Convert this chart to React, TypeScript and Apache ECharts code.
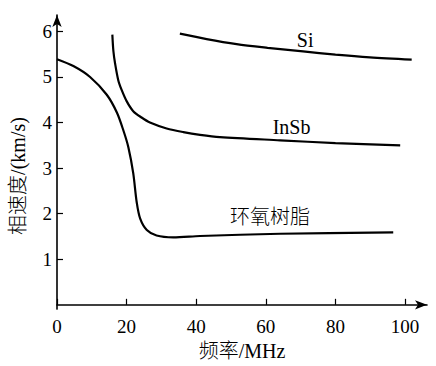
import React, { useEffect, useRef } from "react";
import * as echarts from "echarts";

const xTickValues = [0, 20, 40, 60, 80, 100];
const yTickValues = [1, 2, 3, 4, 5, 6];

const siFreq = [35.3, 43.0, 51.6, 60.5, 70.7, 80.0, 89.9, 101.9];
const siVel = [5.95, 5.83, 5.72, 5.64, 5.56, 5.49, 5.43, 5.38];

const insbFreq = [15.9, 16.2, 16.7, 17.6, 18.6, 20.0, 21.9, 24.3, 26.7, 31.5, 36.3, 41.1, 46.8, 64.1, 80.0, 98.6];
const insbVel = [5.93, 5.57, 5.29, 4.93, 4.71, 4.47, 4.25, 4.11, 4.0, 3.87, 3.79, 3.73, 3.68, 3.61, 3.55, 3.5];

const epoxyFreq = [0, 4.7, 9.5, 14.3, 17.2, 19.1, 20.5, 21.9, 22.9, 23.9, 25.8, 28.6, 33.4, 41.1, 64.1, 96.6];
const epoxyVel = [5.39, 5.24, 5.0, 4.61, 4.22, 3.82, 3.46, 2.89, 2.25, 1.89, 1.64, 1.52, 1.48, 1.51, 1.56, 1.59];

const FONT = "'Liberation Serif', 'Noto Sans CJK SC', serif";

const pairs = (xs: number[], ys: number[]) => xs.map((x, i) => [x, ys[i]]);

const labelPoint = (text: string, coord: number[]) => ({
  symbol: "circle",
  symbolSize: 0,
  silent: true,
  data: [
    {
      coord,
      label: {
        show: true,
        position: "inside",
        formatter: text,
        color: "#000",
        fontSize: 20,
        fontWeight: 300,
        fontFamily: FONT,
      },
    },
  ],
});

export default function App() {
  const ref = useRef<HTMLDivElement>(null);
  useEffect(() => {
    if (!ref.current) return;
    const chart = echarts.init(ref.current, null, { renderer: "svg" });
    const lineStyle = { color: "#000", width: 2.2 };
    chart.setOption({
      animation: false,
      backgroundColor: "#fff",
      grid: { left: 57, right: 9, top: 15, bottom: 50 },
      xAxis: {
        type: "value",
        min: 0,
        max: 106.3,
        axisLine: {
          lineStyle: { color: "#000", width: 1.6 },
          symbol: ["none", "arrow"],
          symbolSize: [7, 12],
        },
        axisTick: { inside: true, length: 6, customValues: xTickValues, lineStyle: { color: "#000", width: 1.2 } },
        axisLabel: { customValues: xTickValues, color: "#000", fontSize: 19, fontFamily: FONT, margin: 8 },
        splitLine: { show: false },
        name: "频率/MHz",
        nameLocation: "middle",
        nameGap: 31,
        nameTextStyle: { color: "#000", fontSize: 20, fontWeight: 300, fontFamily: FONT },
      },
      yAxis: {
        type: "value",
        min: -0.094,
        max: 6.36,
        axisLine: {
          show: true,
          lineStyle: { color: "#000", width: 1.6 },
          symbol: ["none", "arrow"],
          symbolSize: [7, 12],
        },
        axisTick: { show: true, inside: true, length: 6, customValues: yTickValues, lineStyle: { color: "#000", width: 1.2 } },
        axisLabel: { customValues: yTickValues, color: "#000", fontSize: 19, fontFamily: FONT, margin: 5 },
        splitLine: { show: false },
      },
      graphic: [
        {
          type: "text",
          x: 18,
          y: 176,
          rotation: Math.PI / 2,
          style: {
            text: "相速度/(km/s)",
            fill: "#000",
            fontSize: 20,
            fontWeight: 300,
            fontFamily: FONT,
            align: "center",
            verticalAlign: "middle",
          },
        },
      ],
      series: [
        {
          type: "line",
          data: pairs(siFreq, siVel),
          showSymbol: false,
          smooth: 0.3,
          lineStyle,
          markPoint: labelPoint("Si", [71.3, 5.82]),
        },
        {
          type: "line",
          data: pairs(insbFreq, insbVel),
          showSymbol: false,
          smooth: 0.3,
          lineStyle,
          markPoint: labelPoint("InSb", [67.4, 3.91]),
        },
        {
          type: "line",
          data: pairs(epoxyFreq, epoxyVel),
          showSymbol: false,
          smooth: 0.3,
          lineStyle,
          markPoint: labelPoint("环氧树脂", [61.2, 1.93]),
        },
      ],
    });
    return () => chart.dispose();
  }, []);
  return (
    <div
      ref={ref}
      style={{ position: "fixed", left: 0, top: 0, width: 436, height: 366, background: "#fff" }}
    />
  );
}
